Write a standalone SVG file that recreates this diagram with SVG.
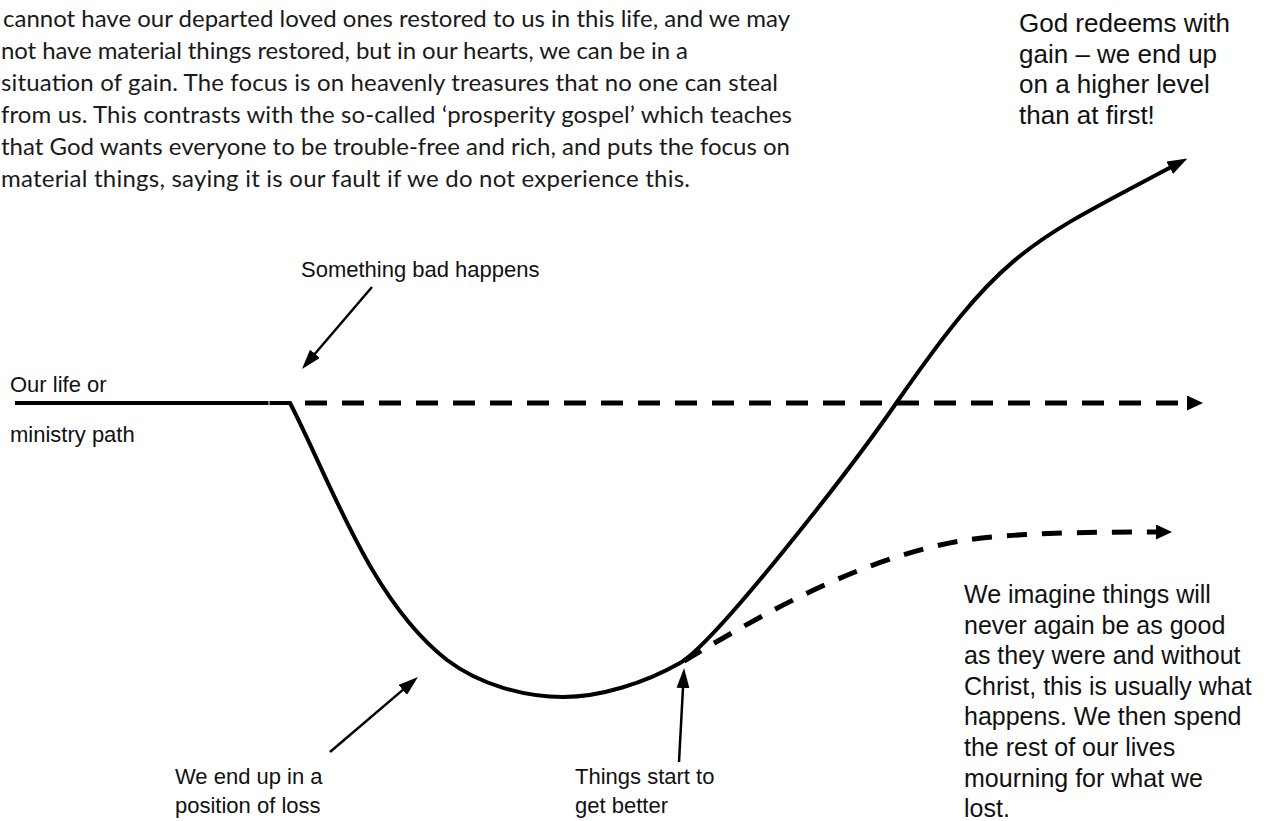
<svg xmlns="http://www.w3.org/2000/svg" width="1284" height="821" viewBox="0 0 1284 821">
<style>
.para{font-family:Lato,"Open Sans","Liberation Sans",sans-serif;font-size:24px;fill:#1a1a1a}
.lbl{font-family:"Liberation Sans",Arial,sans-serif;font-size:22px;fill:#111}
.big{font-family:"Liberation Sans",Arial,sans-serif;font-size:25px;fill:#111}
.top{font-size:26px}
.main{fill:none;stroke:#000;stroke-width:4}
.dash{fill:none;stroke:#000;stroke-width:5;stroke-dasharray:22 15}
.dash2{fill:none;stroke:#000;stroke-width:5;stroke-dasharray:20 15}
.ptr{fill:none;stroke:#000;stroke-width:2.5}
</style>
<defs>
<marker id="ahCurve" markerUnits="userSpaceOnUse" viewBox="0 0 20 14" markerWidth="20" markerHeight="14" refX="6" refY="7" orient="auto"><path d="M0,0 L20,7 L0,14 z" fill="#000"/></marker>
<marker id="ahDash" markerUnits="userSpaceOnUse" viewBox="0 0 16 15" markerWidth="16" markerHeight="15" refX="2" refY="7.5" orient="auto"><path d="M0,0 L16,7.5 L0,15 z" fill="#000"/></marker>
<marker id="ahPtr" markerUnits="userSpaceOnUse" viewBox="0 0 20 13" markerWidth="20" markerHeight="13" refX="4" refY="6.5" orient="auto"><path d="M0,0 L20,6.5 L0,13 z" fill="#000"/></marker>
</defs>
<rect width="1284" height="821" fill="#fff"/>

<g id="paragraph">
<text class="para" x="3" y="27" textLength="787">cannot have our departed loved ones restored to us in this life, and we may</text>
<text class="para" x="1" y="59" textLength="687">not have material things restored, but in our hearts, we can be in a</text>
<text class="para" x="1" y="91" textLength="777">situation of gain. The focus is on heavenly treasures that no one can steal</text>
<text class="para" x="1" y="123" textLength="791">from us. This contrasts with the so-called ‘prosperity gospel’ which teaches</text>
<text class="para" x="1" y="155" textLength="789">that God wants everyone to be trouble-free and rich, and puts the focus on</text>
<text class="para" x="1" y="187" textLength="689">material things, saying it is our fault if we do not experience this.</text>
</g>

<g id="connectors">
<path class="main" d="M15,403 H268.5 M269.5,403 H290 C330,480 370,600 447,660 C480,685 525,697 563,697 C600,697 645,683 680,663 C715,643 850,470 897,402 C1002.5,250 1027,243.4 1175,165" marker-end="url(#ahCurve)"/>
<path class="dash" d="M305,403 H1189" marker-end="url(#ahDash)"/>
<path class="dash2" d="M684,661 C740,628 850,560 960,541 C1010,533 1080,532 1158,532" marker-end="url(#ahDash)"/>
<path class="ptr" d="M372,287 L312.4,356.8" marker-end="url(#ahPtr)"/>
<path class="ptr" d="M330,752 L405.8,687.4" marker-end="url(#ahPtr)"/>
<path class="ptr" d="M679,762 L683.2,684" marker-end="url(#ahPtr)"/>
</g>

<g id="gain-label">
<text class="big top" x="1019" y="32">God redeems with</text>
<text class="big top" x="1019" y="63">gain – we end up</text>
<text class="big top" x="1019" y="93">on a higher level</text>
<text class="big top" x="1019" y="124">than at first!</text>
</g>

<g id="bad-label">
<text class="lbl" x="301" y="277">Something bad happens</text>
</g>

<g id="path-label">
<text class="lbl" x="10" y="392">Our life or</text>
<text class="lbl" x="10" y="442">ministry path</text>
</g>

<g id="loss-label">
<text class="lbl" x="175" y="784">We end up in a</text>
<text class="lbl" x="175" y="813">position of loss</text>
</g>

<g id="better-label">
<text class="lbl" x="575" y="784">Things start to</text>
<text class="lbl" x="575" y="813">get better</text>
</g>

<g id="imagine-label">
<text class="big" x="964" y="603">We imagine things will</text>
<text class="big" x="964" y="634">never again be as good</text>
<text class="big" x="964" y="664">as they were and without</text>
<text class="big" x="964" y="695">Christ, this is usually what</text>
<text class="big" x="964" y="725">happens. We then spend</text>
<text class="big" x="964" y="756">the rest of our lives</text>
<text class="big" x="964" y="787">mourning for what we</text>
<text class="big" x="964" y="817">lost.</text>
</g>
</svg>
